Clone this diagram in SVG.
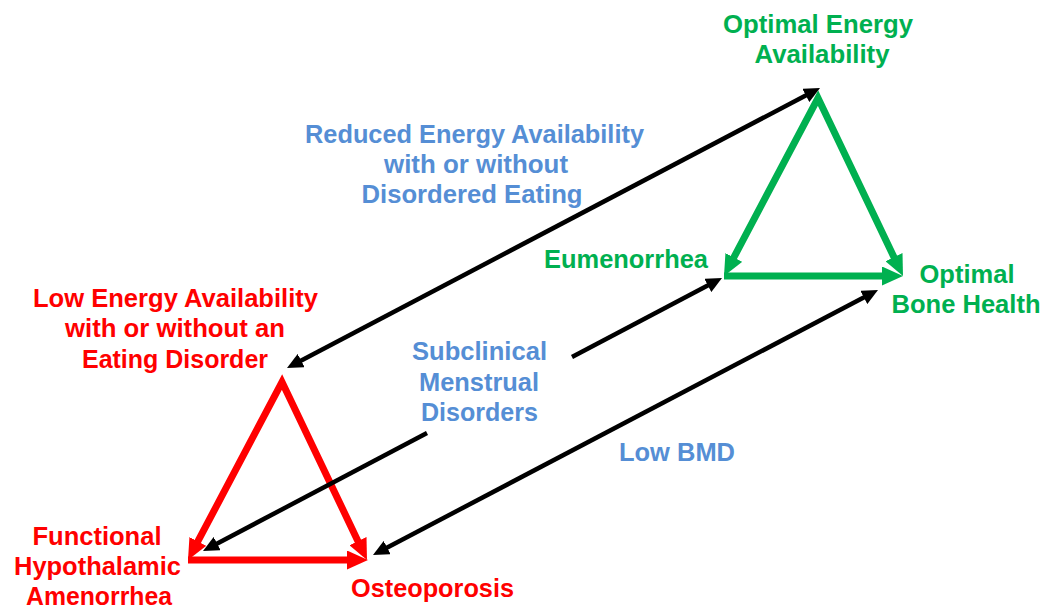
<svg xmlns="http://www.w3.org/2000/svg" width="1042" height="609" viewBox="0 0 1042 609">
<style>
  text { font-family: "Liberation Sans", Arial, sans-serif; font-weight: bold; font-size: 25px; text-anchor: middle; }
  .red { fill: #FF0000; }
  .green { fill: #00B050; }
  .blue { fill: #558ED5; }
  .tri-red { stroke: #FF0000; stroke-width: 7; fill: none; stroke-linejoin: miter; stroke-miterlimit: 10; }
  .tri-green { stroke: #00B050; stroke-width: 7; fill: none; stroke-linejoin: miter; stroke-miterlimit: 10; }
  .conn { stroke: #000000; stroke-width: 4.5; fill: none; }
</style>
<defs>
  <marker id="ah-red" markerUnits="userSpaceOnUse" markerWidth="21" markerHeight="19" refX="2" refY="9.5" orient="auto-start-reverse">
    <path d="M0,0 L21,9.5 L0,19 z" fill="#FF0000"/>
  </marker>
  <marker id="ah-green" markerUnits="userSpaceOnUse" markerWidth="21" markerHeight="19" refX="2" refY="9.5" orient="auto-start-reverse">
    <path d="M0,0 L21,9.5 L0,19 z" fill="#00B050"/>
  </marker>
  <marker id="ah-black" markerUnits="userSpaceOnUse" markerWidth="16" markerHeight="15" refX="2" refY="7.5" orient="auto-start-reverse">
    <path d="M0,0 L16,7.5 L0,15 z" fill="#000000"/>
  </marker>
</defs>
<rect width="1042" height="609" fill="#FFFFFF"/>

<g id="red-triangle">
  <path class="tri-red" d="M196.9,543.2 L282,382 L358.8,542.9" marker-start="url(#ah-red)" marker-end="url(#ah-red)"/>
  <path class="tri-red" d="M188,560 L349,560" marker-end="url(#ah-red)"/>
</g>

<g id="green-triangle">
  <path class="tri-green" d="M732.9,259.2 L818,98 L894.8,258.9" marker-start="url(#ah-green)" marker-end="url(#ah-green)"/>
  <path class="tri-green" d="M724,276 L884,276" marker-end="url(#ah-green)"/>
</g>

<g id="connectors">
  <path class="conn" d="M299.4,361.5 L807.6,94.5" marker-start="url(#ah-black)" marker-end="url(#ah-black)"/>
  <path class="conn" d="M215.4,544.5 L427,433" marker-start="url(#ah-black)"/>
  <path class="conn" d="M572,357 L709.6,284.5" marker-end="url(#ah-black)"/>
  <path class="conn" d="M385.4,548.5 L865.6,296.5" marker-start="url(#ah-black)" marker-end="url(#ah-black)"/>
</g>

<g id="node-optimal-energy">
  <text class="green" x="818" y="33" textLength="190" lengthAdjust="spacingAndGlyphs">Optimal Energy</text>
  <text class="green" x="822" y="63" textLength="135" lengthAdjust="spacingAndGlyphs">Availability</text>
</g>
<g id="node-eumenorrhea">
  <text class="green" x="626" y="268" textLength="164" lengthAdjust="spacingAndGlyphs">Eumenorrhea</text>
</g>
<g id="node-optimal-bone">
  <text class="green" x="967" y="283" textLength="95" lengthAdjust="spacingAndGlyphs">Optimal</text>
  <text class="green" x="966" y="313" textLength="149" lengthAdjust="spacingAndGlyphs">Bone Health</text>
</g>

<g id="label-reduced-ea">
  <text class="blue" x="474.5" y="143" textLength="339" lengthAdjust="spacingAndGlyphs">Reduced Energy Availability</text>
  <text class="blue" x="476" y="173" textLength="184" lengthAdjust="spacingAndGlyphs">with or without</text>
  <text class="blue" x="472" y="203" textLength="221" lengthAdjust="spacingAndGlyphs">Disordered Eating</text>
</g>
<g id="label-subclinical">
  <text class="blue" x="479.5" y="360" textLength="135" lengthAdjust="spacingAndGlyphs">Subclinical</text>
  <text class="blue" x="479" y="391" textLength="120" lengthAdjust="spacingAndGlyphs">Menstrual</text>
  <text class="blue" x="479.5" y="421" textLength="117" lengthAdjust="spacingAndGlyphs">Disorders</text>
</g>
<g id="label-low-bmd">
  <text class="blue" x="677" y="461" textLength="116" lengthAdjust="spacingAndGlyphs">Low BMD</text>
</g>

<g id="node-low-ea">
  <text class="red" x="175.5" y="307" textLength="285" lengthAdjust="spacingAndGlyphs">Low Energy Availability</text>
  <text class="red" x="175" y="337" textLength="220" lengthAdjust="spacingAndGlyphs">with or without an</text>
  <text class="red" x="175" y="368" textLength="186" lengthAdjust="spacingAndGlyphs">Eating Disorder</text>
</g>
<g id="node-fha">
  <text class="red" x="97" y="545" textLength="129" lengthAdjust="spacingAndGlyphs">Functional</text>
  <text class="red" x="97.5" y="575" textLength="167" lengthAdjust="spacingAndGlyphs">Hypothalamic</text>
  <text class="red" x="99" y="605" textLength="146" lengthAdjust="spacingAndGlyphs">Amenorrhea</text>
</g>
<g id="node-osteoporosis">
  <text class="red" x="432.5" y="597" textLength="163" lengthAdjust="spacingAndGlyphs">Osteoporosis</text>
</g>
</svg>
